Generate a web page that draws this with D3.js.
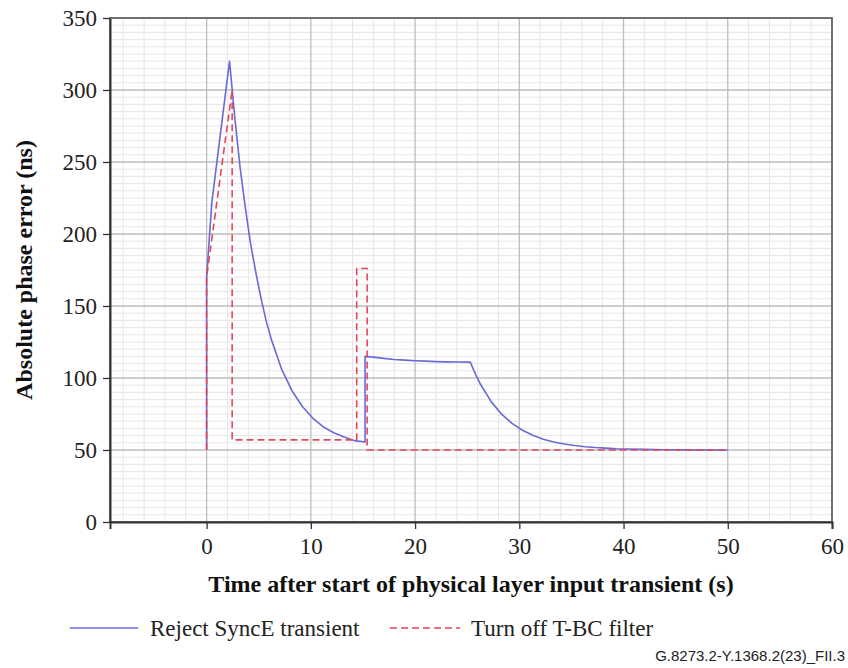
<!DOCTYPE html>
<html>
<head>
<meta charset="utf-8">
<script src="https://cdn.jsdelivr.net/npm/d3@7/dist/d3.min.js"></script>
<style>
  html, body { margin: 0; padding: 0; background: #fff; }
  svg { display: block; }
</style>
</head>
<body>
<svg id="chart" width="848" height="668"></svg>
<script>
// ---- data ----
const xTicks = [0, 10, 20, 30, 40, 50, 60];
const yTicks = [0, 50, 100, 150, 200, 250, 300, 350];
const xDomain = [-9.27, 60];
const yDomain = [0, 350];

const seriesNames = ["Reject SyncE transient", "Turn off T-BC filter"];

// Reject SyncE transient (time s, phase error ns)
const rejectT = [0, 0, 0.5, 2.2, 2.7, 3.2, 3.7, 4.2, 4.7, 5.2, 5.7, 6.2, 7.2, 8.2, 9.2, 10.2, 11.2, 12.2, 13.2, 14.2, 15.2,
  15.2, 16, 17, 18, 19, 20, 21, 22, 23, 24, 25.3, 25.8, 26.3, 27.3, 28.3, 29.3, 30.3, 31.3, 32.3, 33.3, 34.3, 35.3, 36.3,
  37.3, 38.3, 39.3, 40.3, 42, 44, 46, 50];
const rejectV = [50, 170, 222, 320, 281, 247, 219, 194, 174, 156, 140, 127, 106, 91, 80, 72, 66, 62, 59, 56.5, 55.5,
  115, 114.5, 113.6, 112.9, 112.4, 112, 111.7, 111.4, 111.2, 111.1, 111, 102.5, 95.3, 83.6, 74.9, 68.5, 63.7, 60.2, 57.5, 55.6, 54.2, 53.1, 52.3,
  51.7, 51.3, 50.9, 50.7, 50.4, 50.2, 50.1, 50];

// Turn off T-BC filter
const turnoffT = [0, 0, 2.45, 2.45, 14.4, 14.4, 15.4, 15.4, 50];
const turnoffV = [50, 170, 300, 57, 57, 176, 176, 50, 50];

const colors = ["#6a6ad6", "#e4475c"];

// ---- layout ----
const SERIF = '"Liberation Serif", "Times New Roman", serif';
const svg = d3.select("#chart");
const L = 110, R = 832, T = 18, B = 522;
const x = d3.scaleLinear().domain(xDomain).range([L, R]);
const y = d3.scaleLinear().domain(yDomain).range([B, T]);

// minor grid
const g = svg.append("g");
const minorX = d3.range(-8, 60.01, 2).filter(v => xTicks.indexOf(v) < 0);
const minorY = d3.range(5, 350, 5).filter(v => v % 50 !== 0);
g.selectAll(".mx").data(minorX).join("line")
  .attr("x1", d => x(d)).attr("x2", d => x(d)).attr("y1", T).attr("y2", B)
  .attr("stroke", "#e6e6e6").attr("stroke-width", 1);
g.selectAll(".my").data(minorY).join("line")
  .attr("x1", L).attr("x2", R).attr("y1", d => y(d)).attr("y2", d => y(d))
  .attr("stroke", "#e6e6e6").attr("stroke-width", 1);
// major grid
g.selectAll(".Mx").data(xTicks).join("line")
  .attr("x1", d => x(d)).attr("x2", d => x(d)).attr("y1", T).attr("y2", B)
  .attr("stroke", "#bdbdbd").attr("stroke-width", 1.3);
g.selectAll(".My").data(yTicks).join("line")
  .attr("x1", L).attr("x2", R).attr("y1", d => y(d)).attr("y2", d => y(d))
  .attr("stroke", "#bdbdbd").attr("stroke-width", 1.3);

// border (top/right)
svg.append("rect").attr("x", L).attr("y", T).attr("width", R - L).attr("height", B - T)
  .attr("fill", "none").attr("stroke", "#666").attr("stroke-width", 1.8);

// lines
const line = d3.line().x(d => x(d[0])).y(d => y(d[1]));
const rejectData = rejectT.map((t, i) => [t, rejectV[i]]);
const turnoffData = turnoffT.map((t, i) => [t, turnoffV[i]]);

svg.append("path").datum(rejectData).attr("d", line)
  .attr("fill", "none").attr("stroke", colors[0]).attr("stroke-width", 1.6).attr("stroke-linejoin", "round");
svg.append("path").datum(turnoffData).attr("d", line)
  .attr("fill", "none").attr("stroke", colors[1]).attr("stroke-width", 1.6).attr("stroke-dasharray", "7,4");

// axes
const xAxis = svg.append("g").attr("transform", `translate(0,${B})`)
  .call(d3.axisBottom(x).tickValues(xTicks).tickSize(7).tickSizeOuter(7).tickPadding(9));
const yAxis = svg.append("g").attr("transform", `translate(${L},0)`)
  .call(d3.axisLeft(y).tickValues(yTicks).tickSize(7).tickSizeOuter(0).tickPadding(6));
[xAxis, yAxis].forEach(a => {
  a.attr("font-family", null).attr("font-size", null);
  a.select(".domain").attr("stroke", "#333").attr("stroke-width", 2);
  a.selectAll(".tick line").attr("stroke", "#333").attr("stroke-width", 1.3);
  a.selectAll("text").style("font-family", SERIF).style("font-size", "23px").attr("fill", "#222");
});

// titles
svg.append("text").attr("x", 471).attr("y", 592).attr("text-anchor", "middle")
  .style("font-family", SERIF).style("font-weight", "bold").style("font-size", "24px").attr("fill", "#111")
  .text("Time after start of physical layer input transient (s)");
svg.append("text").attr("transform", `translate(32,${(T + B) / 2}) rotate(-90)`).attr("text-anchor", "middle")
  .style("font-family", SERIF).style("font-weight", "bold").style("font-size", "24px").attr("fill", "#111")
  .text("Absolute phase error (ns)");

// legend
const legend = svg.append("g");
const legItems = [{x1: 70, x2: 138, tx: 150}, {x1: 390, x2: 460, tx: 471}];
legItems.forEach((it, i) => {
  const ly = 628;
  legend.append("line").attr("x1", it.x1).attr("x2", it.x2).attr("y1", ly).attr("y2", ly)
    .attr("stroke", colors[i]).attr("stroke-width", 1.6)
    .attr("stroke-dasharray", i === 1 ? "7,4" : null);
  legend.append("text").attr("x", it.tx).attr("y", ly + 8)
    .style("font-family", SERIF).style("font-size", "23px").attr("fill", "#222").text(seriesNames[i]);
});

// footnote
svg.append("text").attr("x", 845).attr("y", 661).attr("text-anchor", "end")
  .style("font-family", '"Liberation Sans", Arial, sans-serif').style("font-size", "15px").attr("fill", "#222")
  .text("G.8273.2-Y.1368.2(23)_FII.3");
</script>
</body>
</html>
